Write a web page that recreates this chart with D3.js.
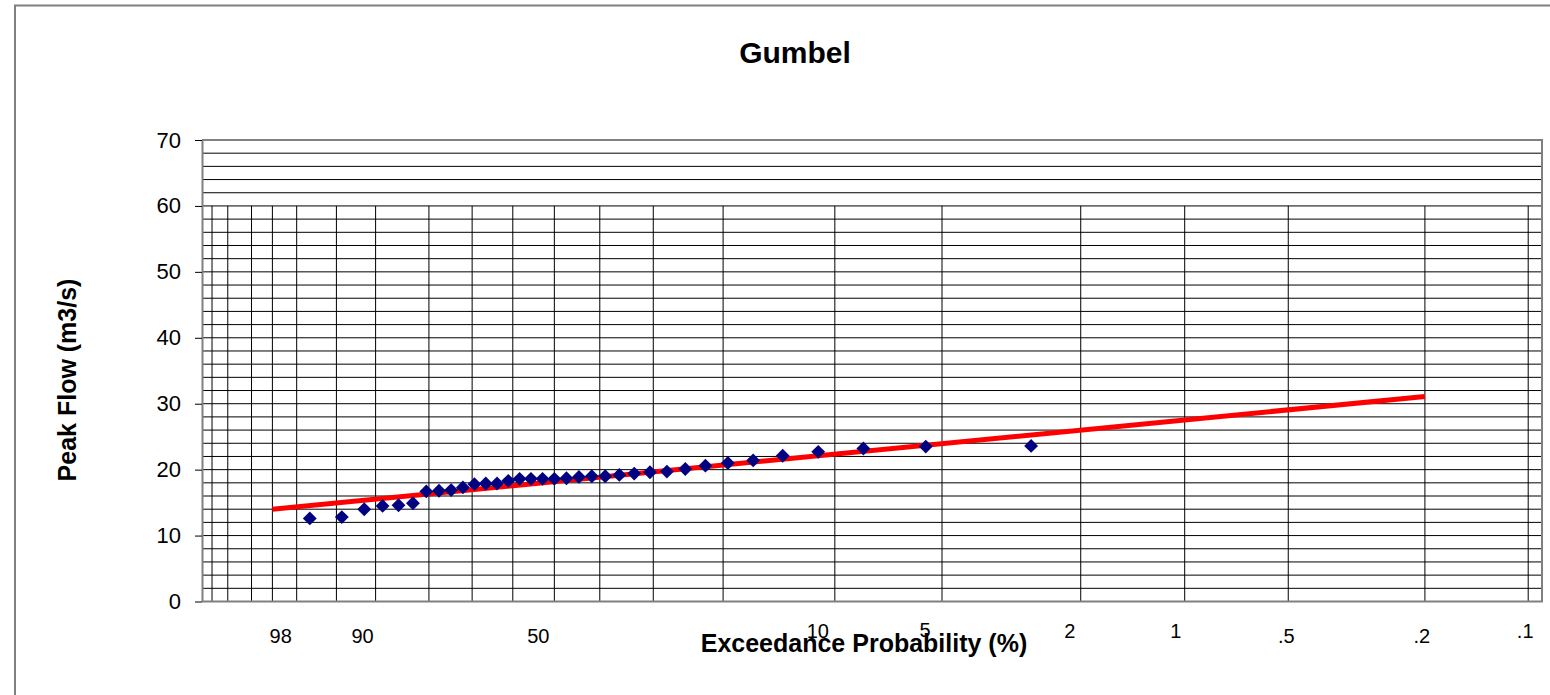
<!DOCTYPE html>
<html>
<head>
<meta charset="utf-8">
<script src="https://cdn.jsdelivr.net/npm/d3@7/dist/d3.min.js"></script>
<style>
  html, body { margin: 0; padding: 0; background: #fff; }
  svg { display: block; font-family: "Liberation Sans", Arial, sans-serif; }
</style>
</head>
<body>
<svg id="chart" width="1550" height="695"></svg>
<script>
// Vertical grid of the Gumbel probability paper (exceedance probability, %)
const gridProbs = [99.9, 99.8, 99.5, 99, 98, 95, 90, 80, 70, 60, 50, 40, 30, 20, 10, 5, 2, 1, 0.5, 0.2, 0.1];

// Labelled probabilities along the bottom
const tickProbs = [98, 90, 50, 10, 5, 2, 1, 0.5, 0.2, 0.1];
const tickLabels = ["98", "90", "50", "10", "5", "2", "1", ".5", ".2", ".1"];

// Flow axis ticks
const flowTicks = [0, 10, 20, 30, 40, 50, 60, 70];

// Observed annual peaks with their plotting positions (exceedance %, m3/s)
const exceedProb = [97.22, 94.44, 91.67, 88.89, 86.11, 83.33, 80.56, 77.78, 75.00, 72.22,
                    69.44, 66.67, 63.89, 61.11, 58.33, 55.56, 52.78, 50.00, 47.22, 44.44,
                    41.67, 38.89, 36.11, 33.33, 30.56, 27.78, 25.00, 22.22, 19.44, 16.67,
                    13.89, 11.11, 8.33, 5.56, 2.78];
const peakFlow = [12.6, 12.8, 14.0, 14.5, 14.6, 14.9, 16.7, 16.8, 16.9, 17.3,
                  17.8, 17.9, 17.9, 18.3, 18.6, 18.6, 18.6, 18.6, 18.7, 18.9,
                  19.0, 19.0, 19.2, 19.4, 19.6, 19.7, 20.1, 20.6, 21.0, 21.4,
                  22.1, 22.7, 23.2, 23.5, 23.6];

// Fitted Gumbel distribution line (exceedance %, m3/s)
const fitProb = [99, 0.2];
const fitFlow = [14.0, 31.1];

// ---- layout ----
const plot = { left: 202, right: 1542, top: 140, bottom: 601.5 };
const labelDx = [-16, -13, -16, -17, -17, -11, -9, -2, -3, -3];
const labelBaseline = [643, 643, 643, 638, 637, 638, 638, 643, 643, 638];

const svg = d3.select("#chart");

// Gumbel reduced variate of an exceedance probability in percent
const reduced = p => -Math.log(-Math.log(1 - p / 100));
const xLin = d3.scaleLinear().domain([-2, 7]).range([plot.left, plot.right]);
const x = p => xLin(reduced(p));
const y = d3.scaleLinear().domain([0, 70]).range([plot.bottom, plot.top]);

// Chart area frame
svg.append("rect")
  .attr("x", 15).attr("y", 5.5)
  .attr("width", 1600).attr("height", 760)
  .attr("fill", "#fff")
  .attr("stroke", "#808080").attr("stroke-width", 2);

// Horizontal grid every 2 m3/s
const hGrid = d3.range(2, 70, 2);
svg.append("g").selectAll("line").data(hGrid).join("line")
  .attr("x1", plot.left).attr("x2", plot.right)
  .attr("y1", d => y(d)).attr("y2", d => y(d))
  .attr("stroke", "#000").attr("stroke-width", 1);

// Vertical probability grid (0 to 60)
svg.append("g").selectAll("line").data(gridProbs).join("line")
  .attr("x1", d => x(d)).attr("x2", d => x(d))
  .attr("y1", y(0)).attr("y2", y(60))
  .attr("stroke", "#000").attr("stroke-width", 1);

// Plot border (top and right) and bottom line
svg.append("path")
  .attr("d", `M${plot.left},${plot.top}H${plot.right}V${plot.bottom}H${plot.left}`)
  .attr("fill", "none").attr("stroke", "#808080").attr("stroke-width", 2);

// Flow axis
const yAxis = d3.axisLeft(y).tickValues(flowTicks).tickSizeInner(7).tickSizeOuter(0).tickPadding(14);
const yG = svg.append("g").attr("transform", `translate(${plot.left},0)`).call(yAxis);
yG.select(".domain").attr("stroke", "#808080").attr("stroke-width", 2);
yG.selectAll(".tick line").attr("stroke", "#000").attr("stroke-width", 1);
yG.selectAll(".tick text")
  .attr("font-size", 22).attr("fill", "#000")
  .attr("font-family", "Liberation Sans, Arial, sans-serif");

// Probability labels
svg.append("g").selectAll("text").data(tickProbs).join("text")
  .attr("x", (d, i) => x(d) + labelDx[i])
  .attr("y", (d, i) => labelBaseline[i])
  .attr("text-anchor", "middle")
  .attr("font-size", 20)
  .attr("fill", "#000")
  .text((d, i) => tickLabels[i]);

// Fitted line
const fitData = fitProb.map((p, i) => [p, fitFlow[i]]);
svg.append("path")
  .datum(fitData)
  .attr("d", d3.line().x(d => x(d[0])).y(d => y(d[1])))
  .attr("fill", "none").attr("stroke", "#ff0000").attr("stroke-width", 5);

// Observed peaks as diamonds
const diamond = d3.symbol().type(d3.symbolSquare).size(96);
svg.append("g").selectAll("path").data(exceedProb).join("path")
  .attr("d", diamond)
  .attr("transform", (d, i) => `translate(${x(d)},${y(peakFlow[i])}) rotate(45)`)
  .attr("fill", "#000080");

// Titles
svg.append("text")
  .attr("x", 795).attr("y", 63)
  .attr("text-anchor", "middle")
  .attr("font-size", 30).attr("font-weight", "bold")
  .text("Gumbel");

svg.append("text")
  .attr("x", 864).attr("y", 652)
  .attr("text-anchor", "middle")
  .attr("font-size", 25).attr("font-weight", "bold")
  .text("Exceedance Probability (%)");

svg.append("text")
  .attr("transform", "translate(76,380) rotate(-90)")
  .attr("text-anchor", "middle")
  .attr("font-size", 25).attr("font-weight", "bold")
  .text("Peak Flow (m3/s)");
</script>
</body>
</html>
